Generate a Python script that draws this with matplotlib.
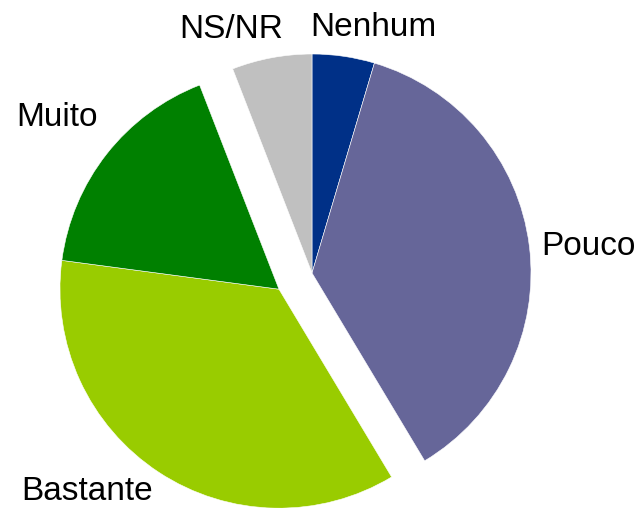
import matplotlib
matplotlib.use("Agg")
import matplotlib.pyplot as plt
import numpy as np

labels = ["Nenhum", "Pouco", "Bastante", "Muito", "NS/NR"]
values = [4.6, 36.8, 35.7, 17.0, 5.9]
colors = ["#003087", "#666699", "#99CC00", "#008000", "#C0C0C0"]

# the two wedges pulled out together
group = ["Bastante", "Muito"]
group_shift = 0.168

fig = plt.figure(figsize=(6.41, 5.08), dpi=100)
ax = fig.add_axes([0, 0, 1, 1])

wedges, _ = ax.pie(values, colors=colors, startangle=90, counterclock=False,
                   radius=1.0, wedgeprops=dict(linewidth=0))

# shift the group along its mid angle
idx = [labels.index(g) for g in group]
t1 = min(wedges[i].theta1 for i in idx)
t2 = max(wedges[i].theta2 for i in idx)
mid = np.deg2rad((t1 + t2) / 2)
dx, dy = group_shift * np.cos(mid), group_shift * np.sin(mid)
for i in idx:
    wedges[i].set_center((dx, dy))

# thin white separators
for w in wedges:
    w.set_edgecolor("white")
    w.set_linewidth(0.4)

label_pos = {
    "Nenhum": (0.279, 1.119),
    "Pouco": (1.260, 0.119),
    "Bastante": (-1.027, -1.000),
    "Muito": (-1.164, 0.712),
    "NS/NR": (-0.370, 1.110),
}
for lab in labels:
    x, y = label_pos[lab]
    ax.text(x, y, lab, ha="center", va="center", fontsize=24,
            family="Liberation Sans", color="black")

ax.set_xlim(-312 / 219, (641 - 312) / 219)
ax.set_ylim(-(508 - 273) / 219, 273 / 219)
ax.set_aspect("equal")
ax.axis("off")

fig.savefig("out.png", dpi=100)
